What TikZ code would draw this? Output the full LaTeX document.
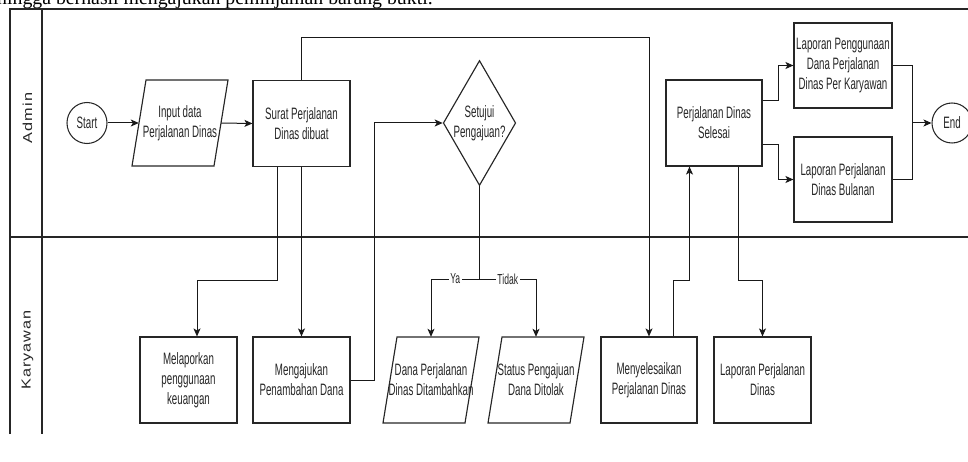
\documentclass[tikz,border=0pt]{standalone}
\usepackage{fontspec}
\setmainfont{Liberation Sans}
\newfontfamily\dfont[FakeStretch=0.59]{Liberation Sans}
\newfontfamily\lanefont[FakeStretch=1.25,LetterSpace=8]{Liberation Sans}
\newfontfamily\topfont{Liberation Serif}
\usetikzlibrary{arrows.meta,shapes.geometric}
\begin{document}
\begin{tikzpicture}[x=1pt,y=-1pt,
  txt/.style={font=\dfont\fontsize{16.5}{20}\selectfont, text=black!85, align=center},
  box/.style={txt, rectangle, draw=black!85, line width=1.15pt, minimum width=97pt, minimum height=86pt, inner sep=0pt},
  io/.style={txt, rectangle, minimum width=82pt, minimum height=86pt, inner sep=0pt},
  iobord/.style={draw=black!85, line width=1.15pt, line join=miter},
  term/.style={txt, ellipse, draw=black!85, line width=1.05pt, minimum width=40pt, minimum height=41pt, inner sep=0pt},
  dec/.style={txt, diamond, aspect=0.58, draw=black!85, line width=1.15pt, minimum width=65pt, minimum height=113pt, inner sep=0pt},
  conn/.style={draw=black!90, line width=1pt},
  arr/.style={conn, -{Stealth[length=8pt,width=7pt,inset=2pt]}},
  lbl/.style={font=\dfont\fontsize{14.5}{16}\selectfont, text=black!85, fill=white, inner sep=1.5pt},
  frame/.style={draw=black!85, line width=1.05pt},
  lane/.style={font=\lanefont\fontsize{13}{15}\selectfont, text=black!85, rotate=90}
]
\useasboundingbox (0,0) rectangle (968,462);
\clip (0,0) rectangle (968,462);

% partial text line at the top
\node[anchor=base west, font=\topfont\fontsize{19.8}{22}\selectfont, inner sep=0pt] (toptext) at (-3,4.5) {hingga berhasil mengajukan peminjaman barang bukti.};

% pool frame
\draw[frame] (10,434) -- (10,9) -- (968,9);
\draw[frame] (42,9) -- (42,434);
\draw[frame] (10,237) -- (968,237);
\node[lane] (admin) at (27.5,118) {Admin};
\node[lane] (kary) at (27.5,350) {Karyawan};

% Admin lane
\node[term] (start) at (87,123) {Start};
\node[io] (in) at (180,123) {Input data\\Perjalanan Dinas};
\node[box] (surat) at (301.5,123.5) {Surat Perjalanan\\Dinas dibuat};
\node[dec] (dia) at (479.5,123) {Setujui\\Pengajuan?};
\node[box, minimum width=96pt] (pds) at (714,123) {Perjalanan Dinas\\Selesai};
\node[box, minimum width=98pt, minimum height=85pt] (lpd) at (843,65.5) {Laporan Penggunaan\\Dana Perjalanan\\Dinas Per Karyawan};
\node[box, minimum width=98pt, minimum height=85pt] (lpb) at (843,179.5) {Laporan Perjalanan\\Dinas Bulanan};
\node[term, minimum height=40pt] (end) at (952,123) {End};

% Karyawan lane
\node[box] (melap) at (188.5,380) {Melaporkan\\penggunaan\\keuangan};
\node[box] (meng) at (301.5,380) {Mengajukan\\Penambahan Dana};
\node[io] (dana) at (431,380) {Dana Perjalanan\\Dinas Ditambahkan};
\node[io] (status) at (536,380) {Status Pengajuan\\Dana Ditolak};
\node[box, minimum width=96pt] (menye) at (649,380) {Menyelesaikan\\Perjalanan Dinas};
\node[box] (lapdin) at (762.5,380) {Laporan Perjalanan\\Dinas};

% parallelogram outlines
\foreach \n in {in,dana,status}
  \draw[iobord] ([shift={(-34,-43)}]\n.center) -- ([shift={(48,-43)}]\n.center)
    -- ([shift={(34,43)}]\n.center) -- ([shift={(-48,43)}]\n.center) -- cycle;

% connectors
\draw[arr] (start) -- (in.west);
\draw[arr] (in.east) -- (surat.west);
\draw[arr] (surat.north) -- (surat.north |- 0,38) -| (menye.north);
\coordinate (s1) at ([xshift=-24.5pt]surat.south);
\coordinate (m1) at ([xshift=8.5pt]melap.north);
\draw[arr] (s1) |- (m1 |- 0,280) -- (m1);
\draw[arr] (surat.south) -- (meng.north);
\draw[arr] (meng.east) -- (meng.east -| 374,0) |- (dia.west);
\draw[arr] (dia.south) -- (dia.south |- 0,279) -- node[lbl]{Ya} (dana.north |- 0,279) -- (dana.north);
\draw[arr] (dia.south |- 0,279) -- node[lbl]{Tidak} (status.north |- 0,279) -- (status.north);
\coordinate (my1) at ([xshift=24pt]menye.north);
\coordinate (p1) at ([xshift=-24.5pt]pds.south);
\draw[arr] (my1) |- (p1 |- 0,280) -- (p1);
\coordinate (p2) at ([xshift=24.5pt]pds.south);
\draw[arr] (p2) |- (lapdin.north |- 0,280) -- (lapdin.north);
\coordinate (pa) at ([yshift=22pt]pds.east);
\coordinate (pb) at ([yshift=-22pt]pds.east);
\draw[arr] (pa) -- (pa -| 778,0) |- (lpd.west);
\draw[arr] (pb) -- (pb -| 778,0) |- (lpb.west);
\coordinate (j) at (912,123);
\draw[conn] (lpd.east) -| (j);
\draw[conn] (lpb.east) -| (j);
\draw[arr] (j) -- (end.west);
\end{tikzpicture}
\end{document}
